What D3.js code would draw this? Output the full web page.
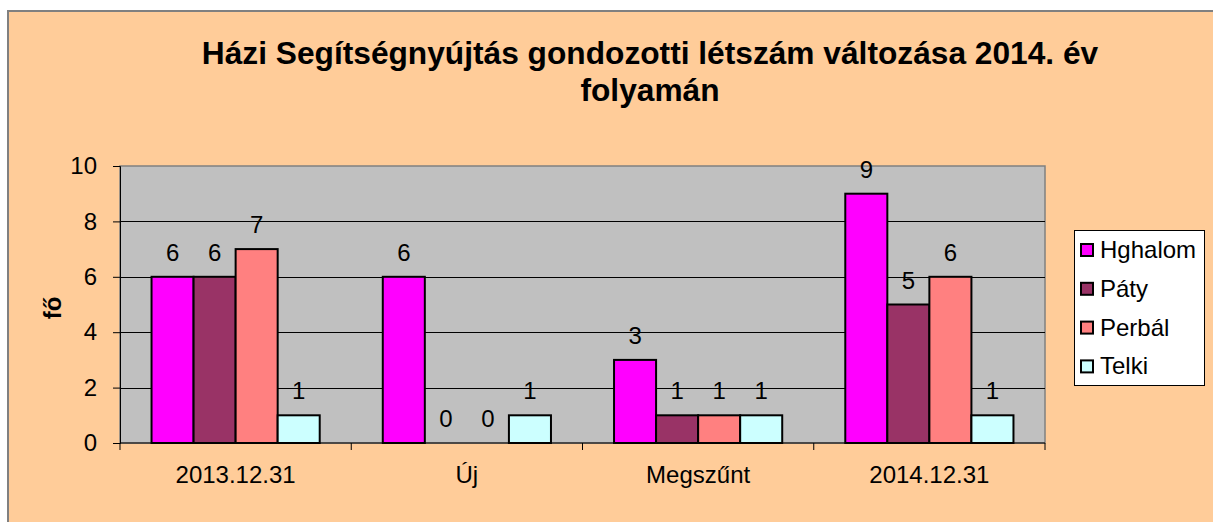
<!DOCTYPE html>
<html>
<head>
<meta charset="utf-8">
<script src="https://cdn.jsdelivr.net/npm/d3@7"></script>
<style>
  body { margin: 0; background: #fff; }
  svg { display: block; font-family: "Liberation Sans", Arial, sans-serif; }
</style>
</head>
<body>
<div id="chart"></div>
<script>
// Chart data
const categories = ["2013.12.31", "Új", "Megszűnt", "2014.12.31"];
const seriesNames = ["Hghalom", "Páty", "Perbál", "Telki"];
const hghalom = [6, 6, 3, 9];
const paty = [6, 0, 1, 5];
const perbal = [7, 0, 1, 6];
const telki = [1, 1, 1, 1];
const yTicks = [0, 2, 4, 6, 8, 10];
const titleLines = ["Házi Segítségnyújtás gondozotti létszám változása 2014. év", "folyamán"];
const yLabel = "fő";

const seriesValues = [hghalom, paty, perbal, telki];
const colors = ["#FF00FF", "#993366", "#FF8080", "#CCFFFF"];

const width = 1213, height = 522;
const plot = { left: 120, top: 166, right: 1045, bottom: 443 };

const svg = d3.select("#chart")
  .append("svg")
  .attr("width", width)
  .attr("height", height);

// Chart area background
svg.append("rect")
  .attr("x", 8).attr("y", 11)
  .attr("width", width + 20).attr("height", height)
  .attr("fill", "#FFCC99")
  .attr("stroke", "#808080")
  .attr("stroke-width", 2);

// Title
svg.append("g")
  .selectAll("text")
  .data(titleLines)
  .join("text")
  .attr("x", 650)
  .attr("y", (d, i) => 64 + i * 37)
  .attr("text-anchor", "middle")
  .attr("font-size", 31.7)
  .attr("font-weight", "bold")
  .text(d => d);

// Scales
const x0 = d3.scaleBand().domain(categories).range([plot.left, plot.right]).padding(0);
const x1 = d3.scaleBand().domain(seriesNames).range([0, x0.bandwidth()]).paddingInner(0).paddingOuter(0.75);
const y = d3.scaleLinear().domain([0, 10]).range([plot.bottom, plot.top]);

// Plot area
svg.append("rect")
  .attr("x", plot.left).attr("y", plot.top)
  .attr("width", plot.right - plot.left).attr("height", plot.bottom - plot.top)
  .attr("fill", "#C0C0C0")
  .attr("stroke", "#808080")
  .attr("stroke-width", 1.5);

// Gridlines
svg.append("g")
  .selectAll("line")
  .data(yTicks.filter(d => d > 0 && d < 10))
  .join("line")
  .attr("x1", plot.left).attr("x2", plot.right)
  .attr("y1", d => Math.round(y(d)) + 0.5).attr("y2", d => Math.round(y(d)) + 0.5)
  .attr("stroke", "#000")
  .attr("stroke-width", 1);

// Y axis
const yAxis = svg.append("g")
  .attr("transform", "translate(" + plot.left + ",0)")
  .call(d3.axisLeft(y).tickValues(yTicks).tickSize(7).tickPadding(16));
yAxis.selectAll("text").attr("font-size", 24).attr("fill", "#000").attr("font-family", null);
yAxis.selectAll("line, path").attr("stroke", "#000");

// X axis, ticks on category boundaries
const xAxis = svg.append("g")
  .attr("transform", "translate(0," + plot.bottom + ")");
xAxis.append("line")
  .attr("x1", plot.left).attr("x2", plot.right)
  .attr("stroke", "#000");
xAxis.selectAll(".tick")
  .data(categories.concat([null]))
  .join("line")
  .attr("x1", (d, i) => i < categories.length ? x0(d) : plot.right)
  .attr("x2", (d, i) => i < categories.length ? x0(d) : plot.right)
  .attr("y1", 0).attr("y2", 7)
  .attr("stroke", "#000");
xAxis.selectAll("text")
  .data(categories)
  .join("text")
  .attr("x", d => x0(d) + x0.bandwidth() / 2)
  .attr("y", 40)
  .attr("text-anchor", "middle")
  .attr("font-size", 24)
  .text(d => d);

// Y label
svg.append("text")
  .attr("transform", "translate(61,308) rotate(-90)")
  .attr("text-anchor", "middle")
  .attr("font-size", 24)
  .attr("font-weight", "bold")
  .text(yLabel);

// Bars
const groups = svg.append("g")
  .selectAll("g")
  .data(seriesNames.map((name, s) => ({ name, s })))
  .join("g");

groups.selectAll("rect")
  .data(d => categories.map((c, i) => ({ c, v: seriesValues[d.s][i], name: d.name, s: d.s })))
  .join("rect")
  .attr("x", d => x0(d.c) + x1(d.name))
  .attr("y", d => y(d.v))
  .attr("width", x1.bandwidth())
  .attr("height", d => y(0) - y(d.v))
  .attr("fill", d => colors[d.s])
  .attr("stroke", "#000")
  .attr("stroke-width", 2);

// Data labels
groups.selectAll("text")
  .data(d => categories.map((c, i) => ({ c, v: seriesValues[d.s][i], name: d.name })))
  .join("text")
  .attr("x", d => x0(d.c) + x1(d.name) + x1.bandwidth() / 2)
  .attr("y", d => y(d.v) - 16)
  .attr("text-anchor", "middle")
  .attr("font-size", 24)
  .text(d => d.v);

// Legend
const legend = svg.append("g");
legend.append("rect")
  .attr("x", 1074.5).attr("y", 230.5)
  .attr("width", 130).attr("height", 155)
  .attr("fill", "#fff")
  .attr("stroke", "#000");

const items = legend.selectAll("g")
  .data(seriesNames)
  .join("g")
  .attr("transform", (d, i) => "translate(1081," + (250 + i * 38.8) + ")");
items.append("rect")
  .attr("x", 0).attr("y", -6)
  .attr("width", 12).attr("height", 12)
  .attr("fill", (d, i) => colors[i])
  .attr("stroke", "#000")
  .attr("stroke-width", 2);
items.append("text")
  .attr("x", 19)
  .attr("y", 8)
  .attr("font-size", 24)
  .text(d => d);
</script>
</body>
</html>
